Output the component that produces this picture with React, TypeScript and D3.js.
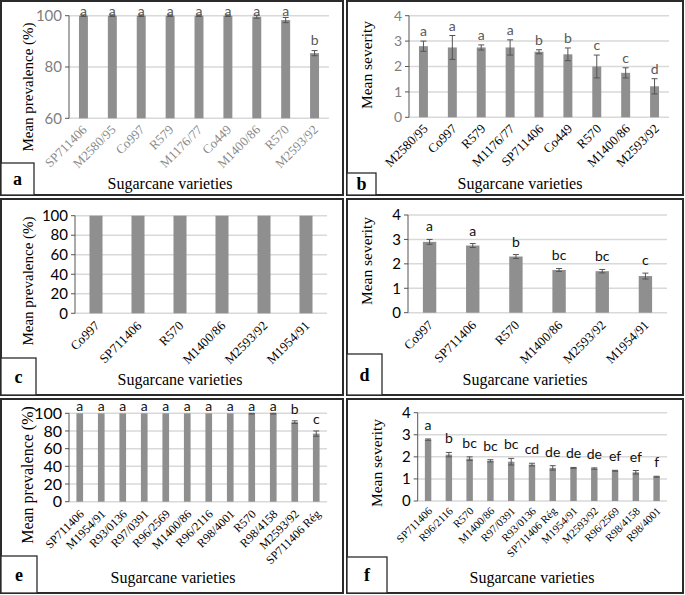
import * as d3 from "d3";

// panel a: prevalence, site 1
const varietiesA = ["SP711406", "M2580/95", "Co997", "R579", "M1176/77", "Co449", "M1400/86", "R570", "M2593/92"];
const prevalenceA = [100, 100, 100, 100, 100, 100, 99.6, 98.3, 85.4];
const errorA = [0.3, 0.3, 0.3, 0.3, 0.3, 0.3, 0.6, 1.0, 1.0];
const lettersA = ["a", "a", "a", "a", "a", "a", "a", "a", "b"];

// panel b: severity, site 1
const varietiesB = ["M2580/95", "Co997", "R579", "M1176/77", "SP711406", "Co449", "R570", "M1400/86", "M2593/92"];
const severityB = [2.8, 2.75, 2.75, 2.75, 2.58, 2.48, 2.0, 1.75, 1.22];
const errorB = [0.2, 0.47, 0.1, 0.3, 0.08, 0.25, 0.45, 0.2, 0.3];
const lettersB = ["a", "a", "a", "a", "b", "b", "c", "c", "d"];

// panel c: prevalence, site 2
const varietiesC = ["Co997", "SP711406", "R570", "M1400/86", "M2593/92", "M1954/91"];
const prevalenceC = [100, 100, 100, 100, 100, 100];

// panel d: severity, site 2
const varietiesD = ["Co997", "SP711406", "R570", "M1400/86", "M2593/92", "M1954/91"];
const severityD = [2.9, 2.75, 2.3, 1.75, 1.7, 1.5];
const errorD = [0.1, 0.08, 0.08, 0.06, 0.07, 0.12];
const lettersD = ["a", "a", "b", "bc", "bc", "c"];

// panel e: prevalence, site 3
const varietiesE = ["SP711406", "M1954/91", "R93/0136", "R97/0391", "R96/2569", "M1400/86", "R96/2116", "R98/4001", "R570", "R98/4158", "M2593/92", "SP711406 Rég"];
const prevalenceE = [100, 100, 100, 100, 100, 100, 100, 100, 99.6, 99.6, 90, 77];
const errorE = [0, 0, 0, 0, 0, 0, 0, 0, 0.4, 0.4, 1.5, 3];
const lettersE = ["a", "a", "a", "a", "a", "a", "a", "a", "a", "a", "b", "c"];

// panel f: severity, site 3
const varietiesF = ["SP711406", "R96/2116", "R570", "M1400/86", "R97/0391", "R93/0136", "SP711406 Rég", "M1954/91", "M2593/92", "R96/2569", "R98/4158", "R98/4001"];
const severityF = [2.78, 2.1, 1.92, 1.82, 1.78, 1.65, 1.5, 1.5, 1.47, 1.37, 1.3, 1.1];
const errorF = [0.03, 0.1, 0.08, 0.05, 0.15, 0.06, 0.1, 0.02, 0.03, 0.02, 0.08, 0.02];
const lettersF = ["a", "b", "bc", "bc", "bc", "cd", "de", "de", "de", "ef", "ef", "f"];

const ticksA = [60, 80, 100];
const prevalenceTicks = [0, 20, 40, 60, 80, 100];
const severityTicks = [0, 1, 2, 3, 4];

const SERIF = "'Liberation Serif', 'Times New Roman', serif";
const SANS = "Lato, 'Open Sans', sans-serif";
const BAR = "#8f8f8f";
const GRID = "#d9d9d9";
const ERR = "#555";

type PanelProps = {
  tag: string;
  box: [number, number, number, number];
  tagBox: [number, number, number, number];
  plot: { left: number; right: number; top: number; bottom: number };
  cats: string[];
  values: number[];
  errors?: number[];
  letters?: string[];
  domain: [number, number];
  ticks: number[];
  yTitle: string;
  yTitlePos: [number, number];
  yTitleSize: number;
  xTitlePos: [number, number];
  tickSize: number;
  tickColor: string;
  xLabelSize: number;
  xLabelColor: string;
  letterColor: string;
  letterGap: number;
  letterMin: number;
  labelOffset: [number, number];
};

function Panel(p: PanelProps) {
  const x = d3.scaleBand<string>()
    .domain(p.cats)
    .range([p.plot.left, p.plot.right])
    .paddingInner(0.69)
    .paddingOuter(0.345);
  const y = d3.scaleLinear().domain(p.domain).range([p.plot.bottom, p.plot.top]);
  const [bx, by, bw, bh] = p.box;
  const [tx, ty, tw, th] = p.tagBox;

  return (
    <g>
      <rect x={bx} y={by} width={bw} height={bh} fill="white" stroke="#2b2b2b" strokeWidth={2} />
      {p.ticks.map(t => (
        <g key={t}>
          <line x1={p.plot.left} x2={p.plot.right} y1={y(t)} y2={y(t)} stroke={GRID} strokeWidth={1.5} />
          <line x1={p.plot.left - 4} x2={p.plot.left} y1={y(t)} y2={y(t)} stroke={ERR} strokeWidth={1} />
          <text x={p.plot.left - 7} y={y(t)} dy="0.35em" textAnchor="end"
            fontFamily={SANS} fontSize={p.tickSize} fill={p.tickColor}>{t}</text>
        </g>
      ))}
      <line x1={p.plot.left} x2={p.plot.left} y1={y(p.domain[1])} y2={y(p.domain[0])} stroke={ERR} strokeWidth={1} />
      {p.cats.map((c, i) => {
        const cx = x(c)! + x.bandwidth() / 2;
        const v = p.values[i];
        const e = p.errors ? p.errors[i] : 0;
        const top = Math.min(y(v + e), y(v));
        return (
          <g key={c}>
            <rect x={x(c)} y={y(v)} width={x.bandwidth()} height={y(p.domain[0]) - y(v)} fill={BAR} />
            {p.errors && e > 0 && (
              <g stroke={ERR} strokeWidth={1}>
                <line x1={cx} x2={cx} y1={y(v - e)} y2={y(v + e)} />
                <line x1={cx - 3} x2={cx + 3} y1={y(v + e)} y2={y(v + e)} />
                <line x1={cx - 3} x2={cx + 3} y1={y(v - e)} y2={y(v - e)} />
              </g>
            )}
            {p.letters && (
              <text x={cx} y={Math.max(top - p.letterGap, p.letterMin)} textAnchor="middle"
                fontFamily={SANS} fontSize={14} fill={p.letterColor}>{p.letters[i]}</text>
            )}
            <text transform={`translate(${cx + p.labelOffset[0]},${p.plot.bottom + p.labelOffset[1]}) rotate(-45)`}
              textAnchor="end" dy="0.35em" fontFamily={SERIF} fontSize={p.xLabelSize} fill={p.xLabelColor}>{c}</text>
          </g>
        );
      })}
      <text transform={`translate(${p.yTitlePos[0]},${p.yTitlePos[1]}) rotate(-90)`} textAnchor="middle" dy="0.35em"
        fontFamily={SERIF} fontSize={p.yTitleSize} fill="#000">{p.yTitle}</text>
      <text x={p.xTitlePos[0]} y={p.xTitlePos[1]} textAnchor="middle" fontFamily={SERIF} fontSize={16} fill="#000">Sugarcane varieties</text>
      <rect x={tx} y={ty} width={tw} height={th} fill="white" stroke="#2b2b2b" strokeWidth={1.3} />
      <text x={tx + tw / 2} y={ty + th / 2} dy="0.35em" textAnchor="middle" fontFamily={SERIF}
        fontWeight="bold" fontSize={18} fill="#000">{p.tag}</text>
    </g>
  );
}

export default function App() {
  return (
    <svg width={685} height={595} style={{ position: "absolute", left: 0, top: 0, background: "white" }}>
      <Panel tag="a" box={[1, 1, 342, 194]} tagBox={[1, 163, 33, 32]}
        plot={{ left: 69, right: 329, top: 15.7, bottom: 118.3 }}
        cats={varietiesA} values={prevalenceA} errors={errorA} letters={lettersA}
        domain={[60, 100]} ticks={ticksA} yTitle="Mean prevalence (%)" yTitlePos={[28, 87]} yTitleSize={15}
        xTitlePos={[170, 189]} tickSize={15} tickColor="#7f7f7f" xLabelSize={13} xLabelColor="#8a8a8a"
        letterColor="#595959" letterGap={6} letterMin={16} labelOffset={[1, 9]} />
      <Panel tag="b" box={[347, 1, 336, 194]} tagBox={[347, 173, 29, 22]}
        plot={{ left: 409, right: 669, top: 15.7, bottom: 117.3 }}
        cats={varietiesB} values={severityB} errors={errorB} letters={lettersB}
        domain={[0, 4]} ticks={severityTicks} yTitle="Mean severity" yTitlePos={[367, 65]} yTitleSize={15.5}
        xTitlePos={[520, 189]} tickSize={14} tickColor="#7f7f7f" xLabelSize={13} xLabelColor="#000"
        letterColor="#595959" letterGap={5} letterMin={0} labelOffset={[2, 9]} />
      <Panel tag="c" box={[1, 199, 342, 196]} tagBox={[1, 358, 35, 37]}
        plot={{ left: 75, right: 327, top: 215.7, bottom: 313.3 }}
        cats={varietiesC} values={prevalenceC}
        domain={[0, 100]} ticks={prevalenceTicks} yTitle="Mean prevalence (%)" yTitlePos={[28, 281]} yTitleSize={15}
        xTitlePos={[180, 385]} tickSize={15} tickColor="#000" xLabelSize={13} xLabelColor="#000"
        letterColor="#000" letterGap={8} letterMin={0} labelOffset={[1, 10]} />
      <Panel tag="d" box={[347, 199, 336, 196]} tagBox={[347, 354, 35, 41]}
        plot={{ left: 408, right: 667, top: 215, bottom: 312.7 }}
        cats={varietiesD} values={severityD} errors={errorD} letters={lettersD}
        domain={[0, 4]} ticks={severityTicks} yTitle="Mean severity" yTitlePos={[367, 261]} yTitleSize={15.5}
        xTitlePos={[525, 385]} tickSize={15} tickColor="#000" xLabelSize={13} xLabelColor="#000"
        letterColor="#111" letterGap={8} letterMin={0} labelOffset={[1, 10]} />
      <Panel tag="e" box={[1, 399, 342, 194]} tagBox={[1, 556, 36, 37]}
        plot={{ left: 69, right: 327, top: 413.3, bottom: 501.7 }}
        cats={varietiesE} values={prevalenceE} errors={errorE} letters={lettersE}
        domain={[0, 100]} ticks={prevalenceTicks} yTitle="Mean prevalence (%)" yTitlePos={[27, 475]} yTitleSize={16}
        xTitlePos={[173, 583]} tickSize={16} tickColor="#000" xLabelSize={12} xLabelColor="#000"
        letterColor="#111" letterGap={7} letterMin={411} labelOffset={[2, 10]} />
      <Panel tag="f" box={[347, 399, 336, 194]} tagBox={[347, 557, 40, 36]}
        plot={{ left: 417.7, right: 667, top: 412.7, bottom: 501 }}
        cats={varietiesF} values={severityF} errors={errorF} letters={lettersF}
        domain={[0, 4]} ticks={severityTicks} yTitle="Mean severity" yTitlePos={[377, 463]} yTitleSize={15.5}
        xTitlePos={[532, 583]} tickSize={15} tickColor="#000" xLabelSize={11} xLabelColor="#000"
        letterColor="#111" letterGap={9} letterMin={0} labelOffset={[2, 8]} />
    </svg>
  );
}
